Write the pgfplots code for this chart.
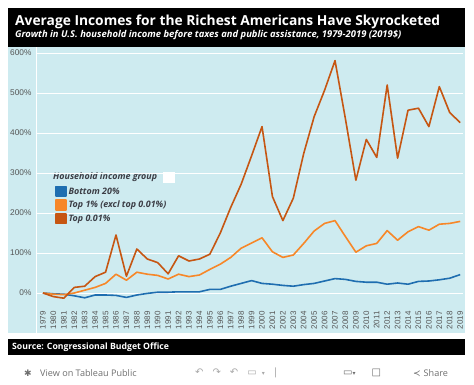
\documentclass[border=0pt]{standalone}
\usepackage{pgfplots}
\pgfplotsset{compat=1.18}
\usepackage{pgfplotstable}
\usepackage{fontspec}
\usepackage{graphicx}
\setmainfont{Liberation Sans}
\newfontfamily\osans{Open Sans}
\newfontfamily\dejavu{DejaVu Sans}
\definecolor{panel}{RGB}{206,235,240}
\definecolor{cblue}{RGB}{31,110,176}
\definecolor{corange}{RGB}{247,135,40}
\definecolor{cdark}{RGB}{198,86,18}
\definecolor{txt}{RGB}{60,62,70}
\definecolor{tick}{RGB}{85,85,85}
\definecolor{tool}{RGB}{110,110,110}
\pgfplotstableread{
year b20 t1 t001
1979 0 0 0
1980 -2 -3 -9
1981 -3 -4 -13
1982 -7 0 14
1983 -12 7 17
1984 -5 14 41
1985 -5 24 52
1986 -6 47 145
1987 -11 32 42
1988 -5 52 110
1989 -1 47 85
1990 2 44 76
1991 2 35 48
1992 3 47 93
1993 3 41 80
1994 3 45 85
1995 9 59 97
1996 9 72 150
1997 17 89 214
1998 24 112 272
1999 31 125 343
2000 24 138 416
2001 22 103 241
2002 19 89 181
2003 17 95 237
2004 21 124 349
2005 24 155 441
2006 30 174 507
2007 36 181 581
2008 34 141 435
2009 29 102 282
2010 27 118 384
2011 27 124 339
2012 22 156 520
2013 25 132 337
2014 22 153 457
2015 29 166 462
2016 30 157 416
2017 33 172 516
2018 37 174 451
2019 46 179 426
}\incomes
\begin{document}
\begin{tikzpicture}[x=1pt,y=1pt]
\useasboundingbox (0,0) rectangle (474,384);
% title box
\fill[black] (8,384-46.5) rectangle (465,384-8);
\node[anchor=west, text=white, inner sep=0] at (15,384-21.5)
  {\resizebox{425pt}{!}{\osans\bfseries Average Incomes for the Richest Americans Have Skyrocketed}};
\node[anchor=west, text=white, inner sep=0] at (15,384-35)
  {\resizebox{386pt}{!}{\osans\bfseries\itshape Growth in U.S. household income before taxes and public assistance, 1979-2019 (2019\$)}};
% panel
\fill[panel] (8,384-333) rectangle (465,384-47);
\draw[white, line width=0.8pt] (36,384-333) -- (36,384-47);
% source bar
\fill[black] (8,384-355) rectangle (465,384-339);
\node[anchor=west, text=white, inner sep=0] at (12,384-347)
  {\osans\bfseries\fontsize{8.7}{10}\selectfont Source: Congressional Budget Office};
% toolbar
\node[anchor=west, text=tool, inner sep=0] at (24,384-373)
  {\dejavu\fontsize{9}{10}\selectfont ✱};
\node[anchor=west, text=tool, inner sep=0] at (40,384-373)
  {\osans\fontsize{9.1}{10}\selectfont View on Tableau Public};
\node[anchor=west, text=tool!60, inner sep=0] at (195,384-373)
  {\dejavu\fontsize{10}{11}\selectfont ↶\hspace{9pt}↷\hspace{9pt}↶\hspace{9pt}▭\hspace{5pt}{\fontsize{6}{7}\selectfont▾}\hspace{9pt}|};
\node[anchor=west, text=tool, inner sep=0] at (343,384-373)
  {\dejavu\fontsize{10}{11}\selectfont ▭{\fontsize{6}{7}\selectfont▾}\hspace{16pt}□};
\node[anchor=west, text=tool, inner sep=0] at (413,384-373)
  {\dejavu\fontsize{9}{10}\selectfont ≺\hspace{3pt}\osans\fontsize{9.1}{10}\selectfont Share};
% legend title + white box
\node[anchor=west, text=txt, inner sep=0] at (53,384-177.5)
  {\osans\bfseries\itshape\fontsize{8.9}{10}\selectfont Household income group};
\fill[white] (163,384-183) rectangle (175,384-172);
\begin{axis}[
  at={(36pt,76pt)}, anchor=south west,
  width=427pt, height=261pt, scale only axis,
  xmin=1978.33, xmax=2019.27, ymin=-37.5, ymax=615,
  axis line style={draw=none},
  major tick length=0pt,
  /pgf/number format/assume math mode=true,
  ytick={0,100,...,600},
  yticklabels={0\%,100\%,200\%,300\%,400\%,500\%,600\%},
  yticklabel style={font=\fontsize{8.3}{10}\selectfont, text=tick, xshift=-1pt},
  xtick={1979,...,2019},
  xticklabel style={rotate=90, anchor=east, font=\fontsize{8}{9}\selectfont, text=tick,
    /pgf/number format/1000 sep={}},
  ymajorgrids, grid style={white, line width=1pt},
  legend style={at={(0.045,0.47)}, anchor=north west, draw=none, fill=none,
    font=\osans\bfseries\itshape\fontsize{8.9}{10}\selectfont, text=txt,
    row sep=2.2pt, inner sep=0pt, nodes={inner sep=1.6pt}},
  legend cell align=left,
  legend image code/.code={\fill[#1] (0pt,-4.4pt) rectangle (10pt,5.2pt);},
  every axis plot/.append style={line width=1.6pt, line join=round, mark=none},
]
\addplot[cblue] table[x=year, y=b20] {\incomes};
\addlegendentry{Bottom 20\%}
\addplot[corange] table[x=year, y=t1] {\incomes};
\addlegendentry{Top 1\% (excl top 0.01\%)}
\addplot[cdark] table[x=year, y=t001] {\incomes};
\addlegendentry{Top 0.01\%}
\end{axis}
\end{tikzpicture}
\end{document}
